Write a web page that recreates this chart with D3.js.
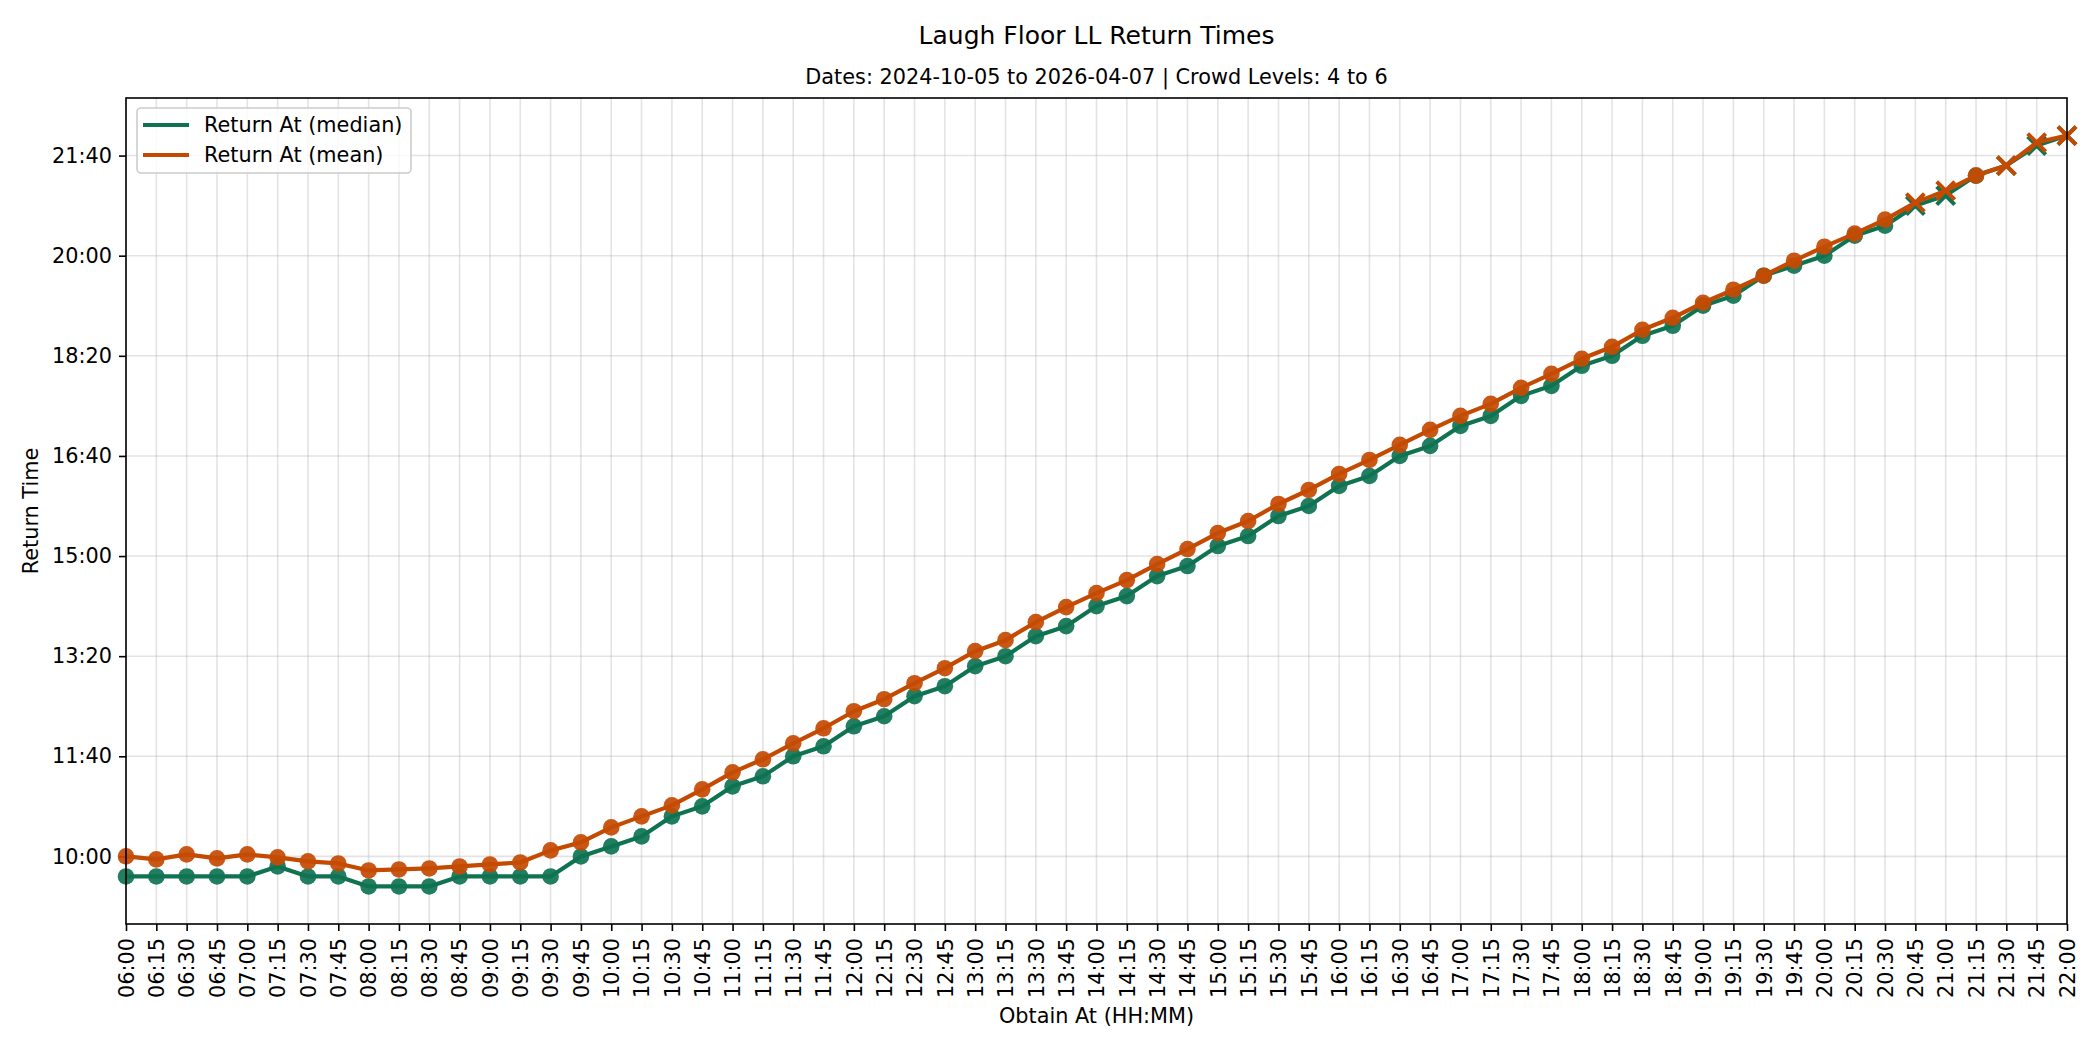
<!DOCTYPE html>
<html>
<head>
<meta charset="utf-8">
<script src="https://cdn.jsdelivr.net/npm/d3@7"></script>
<style>
  html, body { margin: 0; padding: 0; background: #fff; }
  svg { display: block; font-family: "DejaVu Sans", sans-serif; }
</style>
</head>
<body>
<svg id="chart" width="2100" height="1050"></svg>
<script>
// ---- Data (minutes after midnight) ----
const obtainLabels = ["06:00","06:15","06:30","06:45","07:00","07:15","07:30","07:45","08:00","08:15","08:30","08:45","09:00","09:15","09:30","09:45","10:00","10:15","10:30","10:45","11:00","11:15","11:30","11:45","12:00","12:15","12:30","12:45","13:00","13:15","13:30","13:45","14:00","14:15","14:30","14:45","15:00","15:15","15:30","15:45","16:00","16:15","16:30","16:45","17:00","17:15","17:30","17:45","18:00","18:15","18:30","18:45","19:00","19:15","19:30","19:45","20:00","20:15","20:30","20:45","21:00","21:15","21:30","21:45","22:00"];
const medianReturn = [580,580,580,580,580,590,580,580,570,570,570,580,580,580,580,600,610,620,640,650,670,680,700,710,730,740,760,770,790,800,820,830,850,860,880,890,910,920,940,950,970,980,1000,1010,1030,1040,1060,1070,1090,1100,1120,1130,1150,1160,1180,1190,1200,1220,1230,1250,1260,1280,1290,1310,1320];
const meanReturn = [600,597,602,598,602,599,595,593,586,587,588,590,592,594,606,614,629,640,651,667,684,697,713,728,745,757,773,788,805,816,834,849,863,876,892,907,923,935,952,966,982,996,1011,1026,1040,1052,1068,1082,1097,1109,1126,1138,1153,1166,1180,1195,1209,1222,1236,1253,1265,1280,1290,1313,1320];
// marker kind per point: "o" normal, "x" low sample
const markerKind = ["o","o","o","o","o","o","o","o","o","o","o","o","o","o","o","o","o","o","o","o","o","o","o","o","o","o","o","o","o","o","o","o","o","o","o","o","o","o","o","o","o","o","o","o","o","o","o","o","o","o","o","o","o","o","o","o","o","o","o","x","x","o","x","x","x"];
const yTickValues = [600,700,800,900,1000,1100,1200,1300];
const seriesNames = ["Return At (median)","Return At (mean)"];
const seriesColors = ["#0f7352","#c44a02"];

const toMin = s => { const [h,m] = s.split(":").map(Number); return h*60+m; };
const fmt = v => { const h = Math.floor(v/60), m = Math.round(v%60); return String(h).padStart(2,"0")+":"+String(m).padStart(2,"0"); };

const svg = d3.select("#chart");
const L = 126, R = 2067, T = 98, B = 924;
const xs = obtainLabels.map(toMin);
const x = d3.scaleLinear().domain([xs[0], xs[xs.length-1]]).range([L, R]);
const allY = medianReturn.concat(meanReturn);
const yMin = d3.min(allY), yMax = d3.max(allY), pad = (yMax - yMin) * 0.05;
const y = d3.scaleLinear().domain([yMin - pad, yMax + pad]).range([B, T]);

// grid
const g = svg.append("g");
g.selectAll(".vg").data(xs).join("line")
  .attr("x1", d => x(d)).attr("x2", d => x(d)).attr("y1", T).attr("y2", B)
  .attr("stroke", "#b0b0b0").attr("stroke-opacity", 0.35).attr("stroke-width", 1.6);
g.selectAll(".hg").data(yTickValues).join("line")
  .attr("x1", L).attr("x2", R).attr("y1", d => y(d)).attr("y2", d => y(d))
  .attr("stroke", "#b0b0b0").attr("stroke-opacity", 0.35).attr("stroke-width", 1.6);

// axes
const xAxis = d3.axisBottom(x).tickValues(xs).tickFormat(fmt).tickSize(7).tickPadding(7);
const xa = svg.append("g").attr("transform", `translate(0,${B})`).call(xAxis);
xa.select(".domain").remove();
xa.selectAll(".tick line").attr("stroke", "#000").attr("stroke-width", 1.6);
xa.selectAll(".tick text")
  .attr("font-size", 20.8).attr("fill", "#000").attr("font-family", "DejaVu Sans")
  .attr("transform", "rotate(-90)").attr("text-anchor", "end")
  .attr("x", -14).attr("y", 0).attr("dy", "0.35em");

const yAxis = d3.axisLeft(y).tickValues(yTickValues).tickFormat(fmt).tickSize(7).tickPadding(7);
const ya = svg.append("g").attr("transform", `translate(${L},0)`).call(yAxis);
ya.select(".domain").remove();
ya.selectAll(".tick line").attr("stroke", "#000").attr("stroke-width", 1.6);
ya.selectAll(".tick text").attr("font-size", 20.8).attr("fill", "#000").attr("font-family", "DejaVu Sans");

// series
const series = [medianReturn, meanReturn];
series.forEach((vals, si) => {
  const pts = vals.map((v, i) => ({x: xs[i], y: v, k: markerKind[i]}));
  const line = d3.line().x(d => x(d.x)).y(d => y(d.y));
  const sg = svg.append("g");
  sg.append("path").datum(pts).attr("d", line).attr("fill", "none")
    .attr("stroke", seriesColors[si]).attr("stroke-width", 4.2).attr("stroke-linejoin", "round");
  sg.selectAll("circle").data(pts.filter(d => d.k === "o")).join("circle")
    .attr("cx", d => x(d.x)).attr("cy", d => y(d.y)).attr("r", 8.3)
    .attr("fill", seriesColors[si]).attr("fill-opacity", 0.92);
  const s = 9;
  sg.selectAll("path.xm").data(pts.filter(d => d.k === "x")).join("path")
    .attr("class", "xm")
    .attr("d", d => { const cx = x(d.x), cy = y(d.y); return `M${cx-s},${cy-s}L${cx+s},${cy+s}M${cx-s},${cy+s}L${cx+s},${cy-s}`; })
    .attr("stroke", seriesColors[si]).attr("stroke-width", 4).attr("fill", "none");
});

// spines
svg.append("rect").attr("x", L).attr("y", T).attr("width", R-L).attr("height", B-T)
  .attr("fill", "none").attr("stroke", "#000").attr("stroke-width", 1.6);

// legend
const lg = svg.append("g");
lg.append("rect").attr("x", 137).attr("y", 108).attr("width", 274).attr("height", 65).attr("rx", 4)
  .attr("fill", "#fff").attr("fill-opacity", 0.8).attr("stroke", "#cccccc").attr("stroke-width", 1.6);
seriesNames.forEach((name, i) => {
  const yy = 125 + i * 30;
  lg.append("line").attr("x1", 143).attr("x2", 189).attr("y1", yy).attr("y2", yy)
    .attr("stroke", seriesColors[i]).attr("stroke-width", 4.2);
  lg.append("text").attr("x", 204).attr("y", yy).attr("dy", "0.35em")
    .attr("font-size", 20.8).attr("fill", "#000").text(name);
});

// titles
svg.append("text").attr("x", (L+R)/2).attr("y", 35).attr("dy", "0.35em").attr("text-anchor", "middle")
  .attr("font-size", 25).attr("fill", "#000").text("Laugh Floor LL Return Times");
svg.append("text").attr("x", (L+R)/2).attr("y", 77).attr("dy", "0.35em").attr("text-anchor", "middle")
  .attr("font-size", 20.8).attr("fill", "#000").text("Dates: 2024-10-05 to 2026-04-07 | Crowd Levels: 4 to 6");
svg.append("text").attr("x", (L+R)/2).attr("y", 1016).attr("dy", "0.35em").attr("text-anchor", "middle")
  .attr("font-size", 20.8).attr("fill", "#000").text("Obtain At (HH:MM)");
svg.append("text").attr("transform", "translate(31,511) rotate(-90)").attr("dy", "0.35em").attr("text-anchor", "middle")
  .attr("font-size", 20.8).attr("fill", "#000").text("Return Time");
</script>
</body>
</html>
